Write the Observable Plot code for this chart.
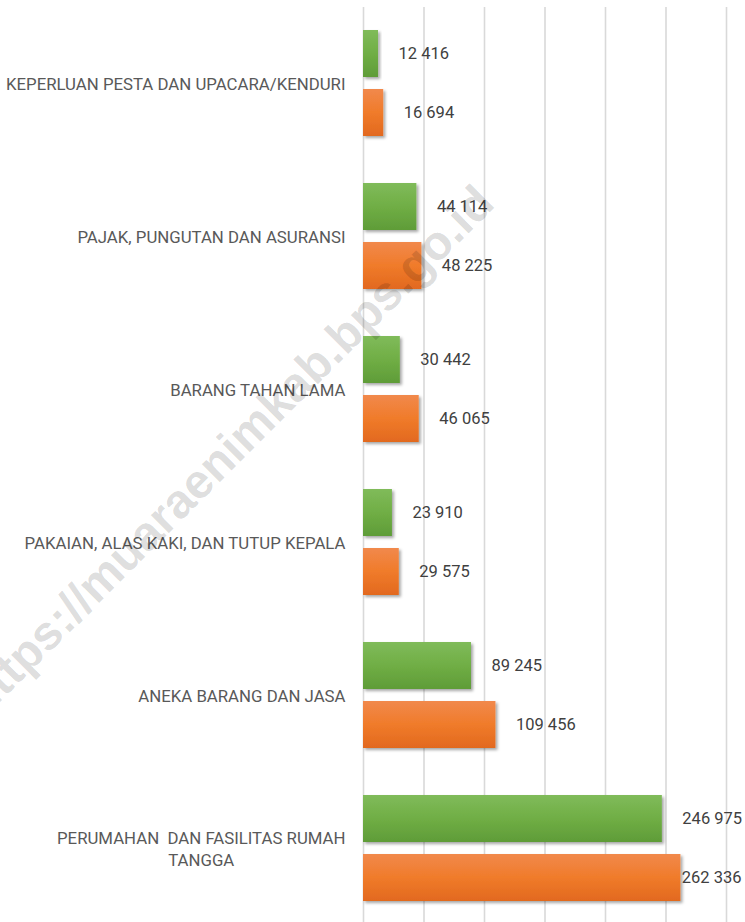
<!DOCTYPE html>
<html>
<head>
<meta charset="utf-8">
<script src="https://cdn.jsdelivr.net/npm/d3@7"></script>
<script src="https://cdn.jsdelivr.net/npm/@observablehq/plot@0.6"></script>
<style>
  html, body { margin: 0; padding: 0; background: #fff; overflow: hidden; }
  #chart svg { display: block; }
</style>
</head>
<body>
<div id="chart"></div>
<script>
// ---- data ----
const categories = [
  "KEPERLUAN PESTA DAN UPACARA/KENDURI",
  "PAJAK, PUNGUTAN DAN ASURANSI",
  "BARANG TAHAN LAMA",
  "PAKAIAN, ALAS KAKI, DAN TUTUP KEPALA",
  "ANEKA BARANG DAN JASA",
  "PERUMAHAN  DAN FASILITAS RUMAH\nTANGGA"
];
const seriesNames = ["Seri 1", "Seri 2"];
const seriesGreen = [12416, 44114, 30442, 23910, 89245, 246975];
const seriesOrange = [16694, 48225, 46065, 29575, 109456, 262336];
const gridValues = [0, 50000, 100000, 150000, 200000, 250000, 300000];
const watermarkText = "https://muaraenimkab.bps.go.id";

// ---- tables ----
const greenData = categories.map((c, i) => ({category: c, series: seriesNames[0], value: seriesGreen[i]}));
const orangeData = categories.map((c, i) => ({category: c, series: seriesNames[1], value: seriesOrange[i]}));
const allData = greenData.concat(orangeData);
const xMax = gridValues[gridValues.length - 1];
const labelRoom = 50000;
const fmt = v => d3.format(",")(v).replace(/,/g, " ");
const fits = d => d.value + labelRoom <= xMax;

const chart = Plot.plot({
  width: 745,
  height: 926,
  marginLeft: 363,
  marginRight: 19,
  marginTop: 6,
  marginBottom: 0,
  facet: {marginTop: 0, marginBottom: 0, marginLeft: 0, marginRight: 0},
  style: {fontFamily: "Roboto, sans-serif", background: "#fff"},
  fy: {domain: categories, padding: 0, axis: null},
  y: {domain: seriesNames, paddingInner: 0.2, paddingOuter: 0.377, axis: null},
  x: {domain: [0, xMax], axis: null},
  marks: [
    Plot.ruleX(gridValues, {stroke: "#d9d9d9", strokeWidth: 1.6}),
    Plot.barX(greenData, {fy: "category", y: "series", x: "value", fill: "url(#gradGreen)"}),
    Plot.barX(orangeData, {fy: "category", y: "series", x: "value", fill: "url(#gradOrange)"}),
    Plot.text(allData, {
      filter: fits, fy: "category", y: "series", x: "value", text: d => fmt(d.value),
      dx: 20, textAnchor: "start", fill: "#404040", fontSize: 16.5
    }),
    Plot.text(allData, {
      filter: d => !fits(d), fy: "category", y: "series", text: d => fmt(d.value),
      frameAnchor: "right", dx: 15, textAnchor: "end", fill: "#404040", fontSize: 16.5
    }),
    Plot.text(categories, {
      fy: d => d, text: d => d, frameAnchor: "left", dx: -18, dy: -1,
      textAnchor: "end", lineAnchor: "middle", lineHeight: 1.3,
      fill: "#595959", fontSize: 16.8
    })
  ]
});

document.getElementById("chart").appendChild(chart);

// gradients and shadow
const svg = d3.select(chart);
const defs = svg.insert("defs", ":first-child");
function grad(id, stops) {
  const g = defs.append("linearGradient").attr("id", id)
    .attr("x1", 0).attr("y1", 0).attr("x2", 0).attr("y2", 1);
  stops.forEach(([o, c]) => g.append("stop").attr("offset", o).attr("stop-color", c));
}
grad("gradGreen", [[0, "#80bb5a"], [0.5, "#70ae45"], [1, "#5f9c38"]]);
grad("gradOrange", [[0, "#f1894c"], [0.5, "#f07b2a"], [1, "#e2691f"]]);
const f = defs.append("filter").attr("id", "barShadow")
  .attr("x", "-10%").attr("y", "-10%").attr("width", "130%").attr("height", "140%");
f.append("feDropShadow").attr("dx", 2).attr("dy", 2).attr("stdDeviation", 1.8)
  .attr("flood-color", "#000").attr("flood-opacity", 0.35);
svg.selectAll('g[fill^="url("]').attr("filter", "url(#barShadow)");

// center multi-line category labels as a block
svg.selectAll("text").each(function () {
  const spans = this.querySelectorAll("tspan");
  if (spans.length > 1 && this.getAttribute("text-anchor") !== "middle") {
    let maxW = 0;
    spans.forEach(s => { maxW = Math.max(maxW, s.getComputedTextLength()); });
    this.setAttribute("text-anchor", "middle");
    spans.forEach(s => s.setAttribute("x", -maxW / 2));
  }
});

// watermark
svg.append("text")
  .attr("transform", "translate(240,462) rotate(-45)")
  .attr("text-anchor", "middle")
  .attr("font-family", "'Liberation Sans', Arial, sans-serif")
  .attr("font-weight", "bold")
  .attr("font-size", 48)
  .attr("fill", "#000")
  .attr("fill-opacity", 0.14)
  .text(watermarkText);
</script>
</body>
</html>
